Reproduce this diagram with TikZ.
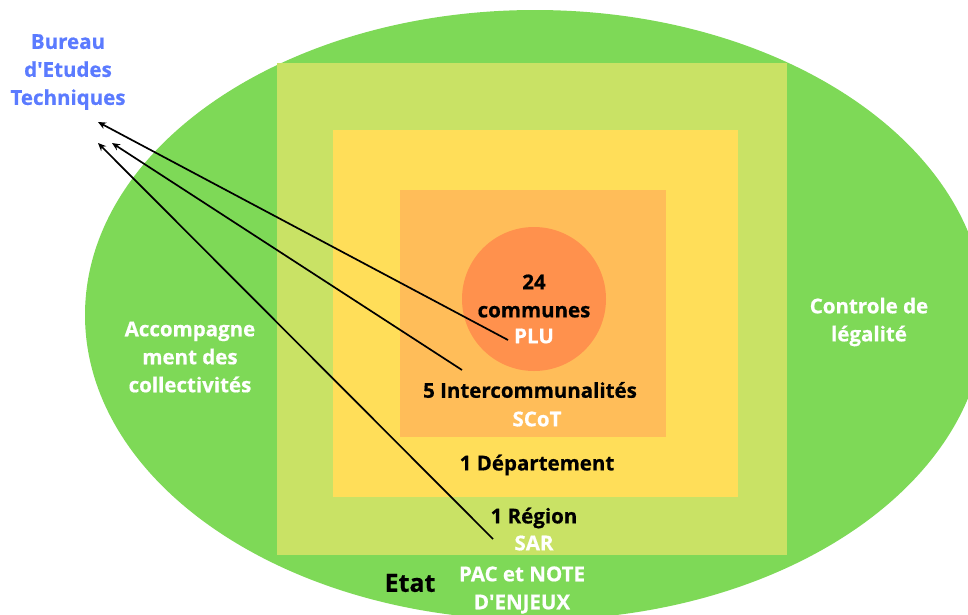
\documentclass[tikz,border=0pt]{standalone}
\usepackage{fontspec}
\newfontfamily\osans{Open Sans}[BoldFeatures={FakeBold=0.6}]
\usetikzlibrary{arrows.meta}
\definecolor{ellgreen}{HTML}{7ED957}
\definecolor{lgreen}{HTML}{C9E265}
\definecolor{yel}{HTML}{FFDE59}
\definecolor{org}{HTML}{FFBD59}
\definecolor{circ}{HTML}{FF914D}
\definecolor{bleu}{HTML}{5B7BFF}
\tikzset{
  lbl/.style={font=\osans\bfseries\fontsize{20.5}{28}\selectfont, align=center, inner sep=0pt},
  wlbl/.style={lbl, text=white},
  blbl/.style={lbl, text=black},
  conn/.style={draw=black, line width=1.7pt, -{Stealth[length=8pt,width=7pt]}},
}
\begin{document}
\begin{tikzpicture}[x=1pt,y=-1pt]
\useasboundingbox (0,0) rectangle (968,614);
\begin{scope}
\clip (0,0) rectangle (968,614);
\fill[ellgreen] (535,315) ellipse [x radius=450pt, y radius=305pt];
\end{scope}
\fill[lgreen] (277,63) rectangle (787,555);
\fill[yel] (333,130) rectangle (738,497);
\fill[org] (400,190) rectangle (666,437);
\fill[circ] (534,299) circle [radius=72pt];

\node[lbl, text=bleu] (bet) at (68,72) {Bureau\\d'Etudes\\Techniques};
\node[blbl] (com) at (534,296) {24\\communes};
\node[wlbl] (plu) at (534,336) {PLU};
\node[blbl] (inter) at (530,390) {5 Intercommunalités};
\node[wlbl] (scot) at (537,419) {SCoT};
\node[blbl] (dep) at (537,465) {1 Département};
\node[blbl] (reg) at (534,518) {1 Région};
\node[wlbl] (sar) at (534,543) {SAR};
\node[lbl, text=black, font=\osans\bfseries\fontsize{25}{28}\selectfont] (etat) at (410,583) {Etat};
\node[wlbl] (pac) at (522,590) {PAC et NOTE\\D'ENJEUX};
\node[wlbl] (acc) at (190,357) {Accompagne\\ment des\\collectivités};
\node[wlbl] (ctl) at (869,322) {Controle de\\légalité};

\coordinate (e1) at (508,340);
\coordinate (e2) at (462,370);
\coordinate (e3) at (493,539);
\coordinate (t1) at (98,122);
\coordinate (t2) at (112,143);
\coordinate (t3) at (98,143);
\draw[conn] (e1) -- (t1);
\draw[conn] (e2) -- (t2);
\draw[conn] (e3) -- (t3);
\end{tikzpicture}
\end{document}
